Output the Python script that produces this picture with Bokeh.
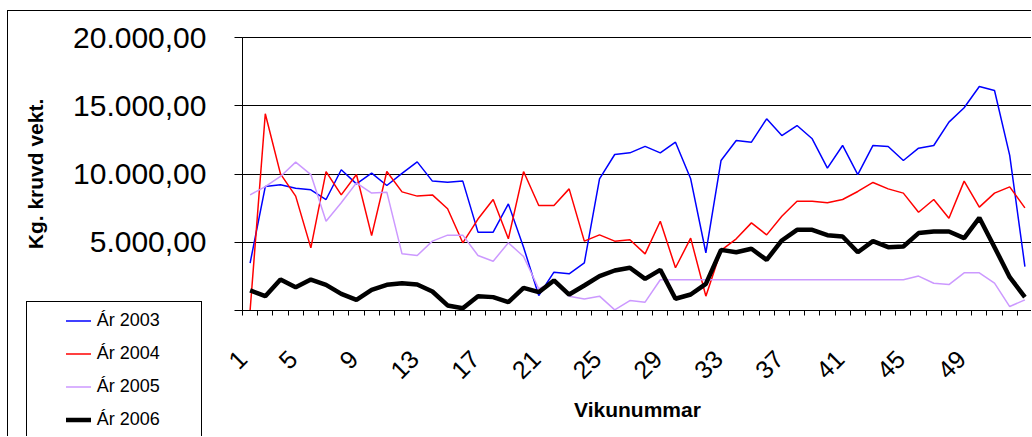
from math import pi
from bokeh.plotting import figure
from bokeh.layouts import column
from bokeh.models import Range1d, FixedTicker, Legend, LegendItem
from bokeh.embed import file_html
from bokeh.resources import INLINE

weeks = list(range(1, 53))

y2003 = [3470, 9080, 9210, 8960, 8840, 8130, 10310, 9280, 10060, 9160,
         10050, 10890, 9480, 9400, 9480, 5740, 5740, 7810, 4640, 1100,
         2810, 2690, 3490, 9650, 11430, 11550, 12020, 11550, 12330, 9650,
         4230, 10990, 12450, 12330, 14040, 12820, 13550, 12580, 10430, 12090,
         9960, 12090, 12020, 10990, 11890, 12090, 13800, 14850, 16410, 16120,
         11360, 3220]
y2004 = [0, 14410, 10010, 8380, 4590, 10180, 8470, 9960, 5490, 10180,
         8690, 8380, 8470, 7450, 4960, 6700, 8130, 5250, 10180, 7690,
         7690, 8910, 5080, 5540, 5080, 5180, 4150, 6540, 3130, 5300,
         1050, 4400, 5250, 6420, 5540, 6910, 8010, 8010, 7890, 8130,
         8720, 9380, 8910, 8600, 7200, 8130, 6760, 9480, 7570, 8600,
         9060, 7520]
y2005 = [8470, 9080, 9820, 10870, 9960, 6540, 7890, 9350, 8600, 8670,
         4150, 4030, 5080, 5520, 5520, 4030, 3610, 4960, 3960, 1590,
         2100, 1050, 850, 1050, 50, 730, 610, 2250, 2250, 2250,
         2250, 2250, 2250, 2250, 2250, 2250, 2250, 2250, 2250, 2250,
         2250, 2250, 2250, 2250, 2520, 2000, 1900, 2760, 2760, 2000,
         290, 780]
y2006 = [1470, 1050, 2270, 1710, 2270, 1880, 1220, 780, 1510, 1880,
         2000, 1900, 1390, 370, 170, 1050, 980, 610, 1660, 1340,
         2200, 1170, 1830, 2520, 2930, 3130, 2320, 2980, 860, 1170,
         1950, 4440, 4270, 4520, 3710, 5130, 5910, 5910, 5520, 5420,
         4270, 5080, 4640, 4690, 5670, 5790, 5790, 5300, 6790, 4640,
         2440, 980]

series_names = ["Ár 2003", "Ár 2004", "Ár 2005", "Ár 2006"]
series_colors = ["#0000FF", "#FF0000", "#CC99FF", "#000000"]
series_widths = [1.5, 1.5, 1.5, 4.5]
x_tick_weeks = [1, 5, 9, 13, 17, 21, 25, 29, 33, 37, 41, 45, 49]
x_tick_labels = ["1", "5", "9", "13", "17", "21", "25", "29", "33", "37", "41", "45", "49"]
y_ticks = [0, 5000, 10000, 15000, 20000]
y_tick_labels = ["", "5.000,00", "10.000,00", "15.000,00", "20.000,00"]
all_series = [y2003, y2004, y2005, y2006]

FONT = "Liberation Sans"
X0, X1 = 0.5, 52.5

# ---------------- main chart ----------------
p = figure(width=1024, height=426, output_backend="svg", toolbar_location=None,
           x_range=Range1d(X0, X1), y_range=Range1d(0, 20000),
           min_border_left=234, min_border_right=0, min_border_top=26,
           min_border_bottom=127, background_fill_color="white",
           border_fill_color="white")
p.styles = {"margin-left": "7px", "margin-top": "10px",
            "border-top": "1px solid black", "border-left": "1px solid black"}

p.outline_line_color = "black"
p.outline_line_width = 1

xa = p.xaxis[0]
lab_pos = [max(X0, w - 1.19) for w in x_tick_weeks]
xa.ticker = FixedTicker(ticks=lab_pos,
                        minor_ticks=[w - 0.5 for w in weeks] + [weeks[-1] + 0.5])
xa.major_label_overrides = dict(zip(lab_pos, x_tick_labels))
xa.major_tick_line_color = None
xa.major_tick_out = 0
xa.major_tick_in = 0
xa.minor_tick_line_color = "black"
xa.minor_tick_out = 5
xa.minor_tick_in = 0
xa.axis_line_color = "black"
xa.major_label_orientation = pi / 4
xa.major_label_standoff = 39
xa.major_label_text_font = FONT
xa.major_label_text_font_size = "25px"
xa.major_label_text_color = "black"
xa.axis_label = "Vikunummar"
xa.axis_label_text_font = FONT
xa.axis_label_text_font_style = "bold"
xa.axis_label_text_font_size = "21px"
xa.axis_label_text_color = "black"
xa.axis_label_standoff = 8

ya = p.yaxis[0]
ya.ticker = FixedTicker(ticks=y_ticks)
ya.major_label_overrides = dict(zip(y_ticks, y_tick_labels))
ya.major_label_text_font = FONT
ya.major_label_text_font_size = "30px"
ya.major_label_text_color = "black"
ya.major_label_standoff = 28
ya.major_tick_out = 8
ya.major_tick_in = 0
ya.minor_tick_line_color = None
ya.axis_line_color = "black"
ya.major_tick_line_color = "black"
ya.axis_label = "Kg. kruvd vekt."
ya.axis_label_text_font = FONT
ya.axis_label_text_font_style = "bold"
ya.axis_label_text_font_size = "21px"
ya.axis_label_text_color = "black"
ya.axis_label_standoff = 23

p.xgrid.visible = False
p.ygrid.ticker = FixedTicker(ticks=y_ticks[1:-1])
p.ygrid.grid_line_color = "black"
p.ygrid.grid_line_alpha = 1
p.ygrid.grid_line_width = 1

for ys, col, lw in zip(all_series, series_colors, series_widths):
    p.line(weeks, ys, line_color=col, line_width=lw)

# ---------------- legend box (overlaid on the lower left corner) ----------------
q = figure(width=176, height=135, output_backend="svg", toolbar_location=None,
           x_range=Range1d(-3, -2), y_range=Range1d(-3, -2),
           x_axis_type=None, y_axis_type=None,
           min_border_left=0, min_border_right=0, min_border_top=0,
           min_border_bottom=0, background_fill_color="white",
           border_fill_color="white", outline_line_color=None)
q.grid.visible = False
q.styles = {"position": "absolute", "left": "26px", "top": "301px",
            "border-top": "1px solid black", "border-left": "1px solid black",
            "border-right": "1px solid black", "background": "white"}

q_lines = [q.line(weeks, ys, line_color=col, line_width=lw)
           for ys, col, lw in zip(all_series, series_colors, series_widths)]
legend = Legend(items=[LegendItem(label=n, renderers=[r]) for n, r in
                       zip(series_names, q_lines)],
                location=(-13, 1), padding=0, margin=0, spacing=0,
                glyph_width=38, glyph_height=33, label_height=33,
                label_standoff=6, label_text_font=FONT,
                label_text_font_size="18px", label_text_color="black",
                border_line_alpha=0, background_fill_alpha=0)
q.add_layout(legend)

open("out.html", "w").write(file_html(column(p, q), INLINE))
